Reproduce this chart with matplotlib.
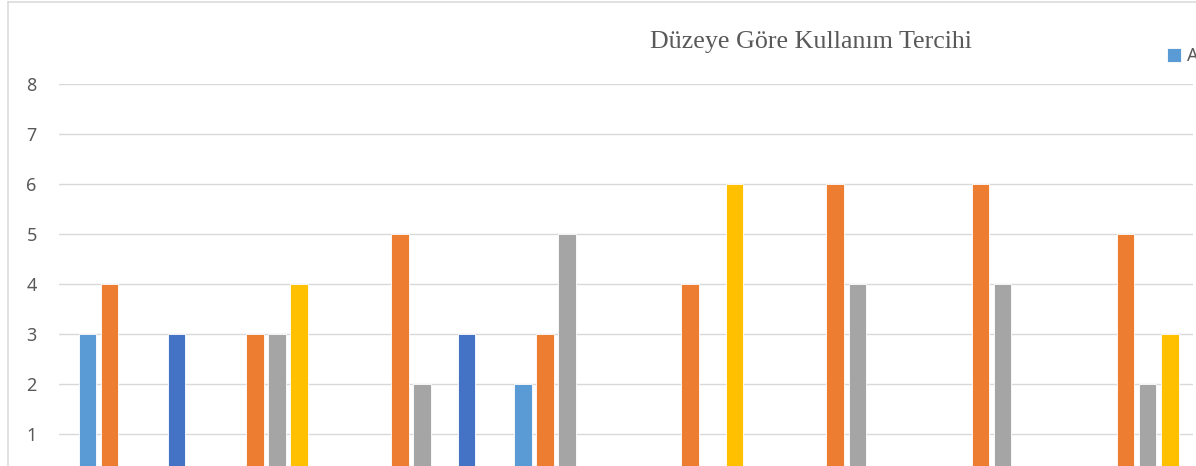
import matplotlib
matplotlib.use("Agg")
import matplotlib.pyplot as plt
from matplotlib.lines import Line2D
import numpy as np

# ---- data ----
categories = ["1", "2", "3", "4", "5", "6", "7", "8"]
series_names = ["A1", "A2", "B1", "B2", "C1"]
s_a1 = [3, 0, 0, 2, 0, 0, 0, 0]
s_a2 = [4, 3, 5, 3, 4, 6, 6, 5]
s_b1 = [0, 3, 2, 5, 0, 4, 4, 2]
s_b2 = [0, 4, 0, 0, 6, 0, 0, 3]
s_c1 = [3, 0, 3, 0, 0, 0, 0, 0]
series_values = [s_a1, s_a2, s_b1, s_b2, s_c1]
series_colors = ["#5B9BD5", "#ED7D31", "#A5A5A5", "#FFC000", "#4472C4"]
yticks = [1, 2, 3, 4, 5, 6, 7, 8]
title = "Düzeye Göre Kullanım Tercihi"

W, H = 1196, 466
fig = plt.figure(figsize=(W / 100, H / 100), dpi=100)
fig.patch.set_facecolor("white")

# axes placed in pixel terms (chart is a crop of a larger Excel chart)
ax_left, ax_right = 59, 1193
ax_top_px, ax_zero_px = 84, 484
ax = fig.add_axes([ax_left / W, 1 - ax_zero_px / H,
                   (ax_right - ax_left) / W, (ax_zero_px - ax_top_px) / H])

group_px = 145.1
bar_step = 22.2 / group_px
bar_w = 17.5 / group_px
x = np.arange(len(categories))
bars = []
for k, (vals, col) in enumerate(zip(series_values, series_colors)):
    b = ax.bar(x + (k - 2) * bar_step, vals, width=bar_w, color=col,
               edgecolor="white", linewidth=0.6, zorder=3,
               label=series_names[k])
    bars.append(b)

ax.set_xlim((ax_left - 131.9) / group_px, (ax_right - 131.9) / group_px)
ax.set_ylim(0, 8)
ax.set_yticks(yticks)
ax.set_xticks(x)
ax.tick_params(axis="x", labelbottom=False)
ax.yaxis.grid(True, color="#D9D9D9", linewidth=1.0, zorder=0)
ax.set_axisbelow(True)
for s in ax.spines.values():
    s.set_visible(False)
ax.tick_params(axis="both", length=0, labelsize=13, labelcolor="#595959", pad=16)
for lab in ax.get_yticklabels():
    lab.set_fontfamily("Noto Sans")

# title
fig.text(811 / W, 1 - 48 / H, title, ha="center", va="baseline",
         fontsize=18.7, color="#595959", family="Liberation Serif")

# legend (cut off at right edge as in the reference)
leg = fig.legend(handles=bars, labels=series_names, loc="upper left",
                 bbox_to_anchor=(1167 / W, 1 - 47 / H), ncol=5, frameon=False,
                 fontsize=13, handlelength=0.8, handleheight=0.8,
                 handletextpad=0.3, borderpad=0, borderaxespad=0,
                 columnspacing=1.0)
for t in leg.get_texts():
    t.set_color("#595959")
    t.set_fontfamily("Noto Sans")

# chart-area border (left and top visible)
bc = "#D9D9D9"
fig.add_artist(Line2D([7.5 / W, 7.5 / W], [0, 1 - 1.5 / H], color=bc, lw=1.1))
fig.add_artist(Line2D([7.5 / W, 1.0], [1 - 1.5 / H, 1 - 1.5 / H], color=bc, lw=1.1))

fig.savefig("out.png", dpi=100)
